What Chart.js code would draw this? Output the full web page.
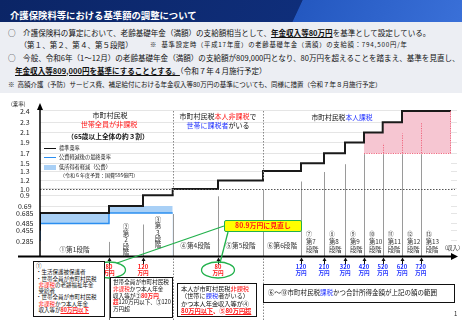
<!DOCTYPE html>
<html><head><meta charset="utf-8">
<script src="https://cdn.jsdelivr.net/npm/chart.js@4.4.1/dist/chart.umd.min.js"></script>
<style>
html,body{margin:0;padding:0;width:462px;height:320px;overflow:hidden;background:#fff;font-family:"Noto Sans CJK JP","Noto Sans",sans-serif;color:#111;}
.a{position:absolute;white-space:nowrap;}
#bar{position:absolute;left:0;top:0;width:462px;height:22px;background:linear-gradient(115deg,#0b2566 0%,#0f2e7a 64%,#2458c0 64.2%,#3a70d8 100%);}
#panel{position:absolute;left:0;top:22px;width:462px;height:71px;background:#eceef3;}
#wrap{position:absolute;left:0;top:92px;width:462px;height:228px;}
.r{color:#ff1a1a}.b{color:#2233ff}
.bx{position:absolute;border:1px solid #111;background:#fff;box-sizing:border-box;overflow:hidden;}
u{text-underline-offset:1px}
</style></head>
<body>
<div id="bar"></div>
<div class="a" style="left:10px;top:8.5px;font-size:9.35px;line-height:12px;font-weight:bold;color:#fff">介護保険料等における基準額の調整について</div>
<div id="panel"></div>
<div class="a" style="left:8px;top:28px;font-size:7.55px;line-height:10px">○　介護保険料の算定において、老齢基礎年金（満額）の支給額相当として、<b><u>年金収入等80万円</u></b>を基準として設定している。</div>
<div class="a" style="left:19.5px;top:40px;font-size:7.55px;line-height:10px">（第１、第２、第４、第５段階）</div>
<div class="a" style="left:150px;top:41px;font-size:6.3px;line-height:8px;letter-spacing:0.8px">※&nbsp;&nbsp;基準設定時（平成17年度）の老齢基礎年金（満額）の支給額：794,500円/年</div>
<div class="a" style="left:8px;top:53px;font-size:7.55px;line-height:10px">○　今般、令和6年（1～12月）の老齢基礎年金（満額）の支給額が809,000円となり、80万円を超えることを踏まえ、基準を見直し、</div>
<div class="a" style="left:15px;top:65.5px;font-size:7.55px;line-height:10px"><b><u>年金収入等809,000円を基準にすることとする。</u></b>（令和７年４月施行予定）</div>
<div class="a" style="left:8px;top:80px;font-size:6.5px;line-height:9px">※&nbsp;&nbsp;高額介護（予防）サービス費、補足給付における年金収入等80万円の基準についても、同様に措置（令和７年８月施行予定）</div>

<div id="wrap"><canvas id="c" width="462" height="228"></canvas></div>
<div id="ov"></div>

<script>
// ---------------- DATA ----------------
const stageCircled = ['①','②','③','④','⑤','⑥','⑦','⑧','⑨','⑩','⑪','⑫','⑬'];
const stageNames = ['第1段階','第2段階','第3段階','第4段階','第5段階','第6段階','第7段階','第8段階','第9段階','第10段階','第11段階','第12段階','第13段階'];
const standardRates = [0.455,0.685,0.69,0.9,1.0,1.2,1.3,1.5,1.7,1.9,2.1,2.3,2.4];
const reducedRates = [0.285,0.485,0.685];
const tickValues = [0.285,0.455,0.485,0.685,0.69,0.9,1.0,1.2,1.3,1.5,1.7,1.9,2.1,2.3,2.4];
const tickLabels = ['0.285','0.455','0.485','0.685','0.69','0.9','1.0','1.2','1.3','1.5','1.7','1.9','2.1','2.3','2.4'];
const thresholdAfterStage = [1,2,4,6,7,8,9,10,11,12];
const thresholdLabels = ['80','120','80','120','210','320','420','520','620','720'];
const pinkBaseRate = 1.7;
const referenceRate = 1.0;

// ---------------- LAYOUT ----------------
const STAGE_W = [69,34,29.7,45.3,45,38,23,21,19,18.7,19.3,18.7,30.3];
const X_MAX = 417;
const WARP_V = [0].concat(tickValues, [2.5]);
const WARP_H = [0,15.6,26,33,43.5,50.5,61.2,67.6,76,85.5,93.3,103.3,114,124,134.3,145.5,152.5];
const TOP = 92;
const bx = [0]; STAGE_W.forEach((w,i)=>bx.push(bx[i]+w));

function warpDec(v){
  if (v<=WARP_V[0]) return 0;
  for (let i=1;i<WARP_V.length;i++){
    if (v<=WARP_V[i]){ const t=(v-WARP_V[i-1])/(WARP_V[i]-WARP_V[i-1]); return (WARP_H[i-1]+t*(WARP_H[i]-WARP_H[i-1]))/WARP_H[WARP_H.length-1]; }
  }
  return 1;
}
function unwarp(d){
  const h=d*WARP_H[WARP_H.length-1];
  for (let i=1;i<WARP_H.length;i++){ if (h<=WARP_H[i]){ const t=(h-WARP_H[i-1])/(WARP_H[i]-WARP_H[i-1]); return WARP_V[i-1]+t*(WARP_V[i]-WARP_V[i-1]); } }
  return WARP_V[WARP_V.length-1];
}
class WarpScale extends Chart.LinearScale {
  getPixelForValue(v){ return this.getPixelForDecimal(warpDec(v)); }
  getValueForPixel(p){ return unwarp(this.getDecimalForPixel(p)); }
}
WarpScale.id='warp';
WarpScale.defaults=Chart.LinearScale.defaults;
Chart.register(WarpScale);

const stdPts = standardRates.map((r,i)=>({x:bx[i],y:r})).concat([{x:bx[13],y:standardRates[12]}]);
const redPts = reducedRates.map((r,i)=>({x:bx[i],y:r})).concat([{x:bx[3],y:reducedRates[2]}]);
const blueFillPts = standardRates.slice(0,3).map((r,i)=>({x:bx[i],y:r})).concat([{x:bx[3],y:standardRates[2]}]);
const pinkPts = standardRates.slice(9).map((r,i)=>({x:bx[i+9],y:r})).concat([{x:bx[13],y:standardRates[12]}]);

const FONT = '"Noto Sans CJK JP","Noto Sans",sans-serif';
const base = {stepped:'after',pointRadius:0,borderColor:'transparent',borderWidth:0};

const deco = {
  id:'deco',
  afterDatasetsDraw(chart){
    const c=chart.ctx, xs=chart.scales.x, ys=chart.scales.y;
    const px=v=>xs.getPixelForValue(v), py=v=>ys.getPixelForValue(v);
    const y0=py(0);
    c.save();
    for (let i=1;i<13;i++){
      const x=Math.round(px(bx[i]))+0.5;
      const left = i<=3 ? reducedRates[i-1] : standardRates[i-1];
      const lim = i>=10 ? pinkBaseRate : left;
      c.strokeStyle='#9a9a9a'; c.lineWidth=1; c.setLineDash([]);
      c.beginPath(); c.moveTo(x,y0); c.lineTo(x,py(lim)+1); c.stroke();
      if (i>=10){
        c.strokeStyle='#f0677f'; c.setLineDash([1.2,1.2]);
        c.beginPath(); c.moveTo(x,py(pinkBaseRate)); c.lineTo(x,py(left)+1); c.stroke();
      }
    }
    c.strokeStyle='#f0677f'; c.lineWidth=1; c.setLineDash([1.2,1.2]);
    c.beginPath(); c.moveTo(px(bx[9]),Math.round(py(pinkBaseRate))+0.5); c.lineTo(px(bx[13]),Math.round(py(pinkBaseRate))+0.5); c.stroke();
    c.beginPath(); c.moveTo(px(bx[13])-0.5,py(pinkBaseRate)); c.lineTo(px(bx[13])-0.5,py(standardRates[12])); c.stroke();
    c.strokeStyle='#555'; c.setLineDash([1.5,1.5]);
    const yr=Math.round(py(referenceRate))+0.5;
    c.beginPath(); c.moveTo(px(0),yr); c.lineTo(px(X_MAX)-2,yr); c.stroke();
    c.strokeStyle='#888'; c.setLineDash([1.5,1.5]);
    [3,5].forEach(i=>{
      const x=Math.round(px(bx[i]))+0.5;
      c.beginPath(); c.moveTo(x,py(2.4)); c.lineTo(x,py(standardRates[i])-1); c.stroke();
      c.beginPath(); c.moveTo(x,y0+2); c.lineTo(x,chart.height); c.stroke();
    });
    c.setLineDash([]);
    c.strokeStyle='#444'; c.lineWidth=0.8;
    const xs1=Math.round(px(bx[1]))+0.5;
    c.beginPath(); c.moveTo(xs1,y0+2); c.lineTo(xs1,chart.height); c.stroke();
    c.fillStyle='#111'; c.strokeStyle='#111'; c.lineWidth=1;
    thresholdAfterStage.forEach(k=>{
      const x=Math.round(px(bx[k]))+0.5;
      c.beginPath(); c.moveTo(x,y0+8); c.lineTo(x,y0+3); c.stroke();
      c.beginPath(); c.moveTo(x,y0+1); c.lineTo(x-2,y0+4.5); c.lineTo(x+2,y0+4.5); c.closePath(); c.fill();
    });
    c.strokeStyle='#000'; c.fillStyle='#000';
    c.lineWidth=2; c.beginPath(); c.moveTo(18,y0); c.lineTo(px(X_MAX)-3,y0); c.stroke();
    c.beginPath(); c.moveTo(px(X_MAX)+1,y0); c.lineTo(px(X_MAX)-6,y0-3.5); c.lineTo(px(X_MAX)-6,y0+3.5); c.closePath(); c.fill();
    const xa=px(0);
    c.lineWidth=1.5; c.beginPath(); c.moveTo(xa,y0); c.lineTo(xa,chart.chartArea.top+4); c.stroke();
    c.beginPath(); c.moveTo(xa,chart.chartArea.top-1); c.lineTo(xa-3,chart.chartArea.top+6); c.lineTo(xa+3,chart.chartArea.top+6); c.closePath(); c.fill();
    c.strokeStyle='#22b14c'; c.lineWidth=1.3;
    const e1=px(bx[1]), e2=px(bx[4]);
    c.beginPath(); c.moveTo(224,226-TOP); c.lineTo(e1+8,263-TOP); c.stroke();
    c.beginPath(); c.moveTo(228,232-TOP); c.lineTo(e2+2,263-TOP); c.stroke();
    [e1,e2].forEach(x=>{ c.beginPath(); c.ellipse(x,270-TOP,16.5,8,0,0,Math.PI*2); c.stroke(); });
    c.restore();
  }
};

const chart = new Chart(document.getElementById('c'),{
  type:'line',
  data:{datasets:[
    Object.assign({},base,{label:'標準乗率',data:stdPts,borderColor:'#1a1a1a',borderWidth:2,fill:false}),
    Object.assign({},base,{label:'公費軽減後の最終乗率',data:redPts,borderColor:'#2b8ef0',borderWidth:1.5,fill:false}),
    Object.assign({},base,{label:'pink',data:pinkPts,fill:{value:pinkBaseRate},backgroundColor:'#f6c6d2'}),
    Object.assign({},base,{label:'white2',data:redPts,fill:'origin',backgroundColor:'#ffffff'}),
    Object.assign({},base,{label:'低所得者軽減（公費）',data:blueFillPts,fill:'origin',backgroundColor:'#a9d0f6'}),
    Object.assign({},base,{label:'white',data:stdPts,fill:'origin',backgroundColor:'#ffffff'})
  ]},
  options:{
    responsive:false, animation:false, devicePixelRatio:1,
    layout:{padding:{left:0,right:5,top:12,bottom:63.5}},
    plugins:{legend:{display:false},tooltip:{enabled:false}},
    scales:{
      x:{type:'linear',min:0,max:X_MAX,display:false},
      y:{type:'warp',min:0,max:2.5,
         afterBuildTicks:s=>{ s.ticks=tickValues.map(v=>({value:v})); },
         afterFit:s=>{ s.width=40; },
         ticks:{autoSkip:false,callback:(v,i)=>tickLabels[i],font:{size:7,family:FONT},color:'#222',padding:6.5,crossAlign:'center'},
         grid:{drawTicks:false,color:'#dedede',lineWidth:0.8},
         border:{display:false}}
    }
  },
  plugins:[deco]
});

// ---------------- TEXT OVERLAYS ----------------
const ov=document.getElementById('ov');
function T(html,left,cy,size,extra){
  const d=document.createElement('div'); d.className='a';
  const lh=size*1.3;
  d.style.cssText=`left:${left}px;top:${cy-lh/2}px;font-size:${size}px;line-height:${lh}px;`+(extra||'');
  d.innerHTML=html; ov.appendChild(d); return d;
}
const xs=chart.scales.x;
const PX=v=>xs.getPixelForValue(v);

T('(乗率)',11,105,5.5,'color:#222');
const L=(top,h,col)=>{const d=document.createElement('div');d.style.cssText=`position:absolute;left:43.5px;top:${top}px;width:12px;height:${h}px;background:${col}`;ov.appendChild(d);};
L(147.5,1.8,'#111'); L(156.8,1.5,'#2b8ef0'); L(164.8,5.5,'#a9d0f6');
T('標準乗率',59,148.5,5.2,'color:#222');
T('公費軽減後の最終乗率',59,157.7,5.2,'color:#222');
T('低所得者軽減（公費）',59,167.3,5.2,'color:#222');
T('（令和６年度予算：国費595億円）',60,175,5,'color:#222');

T('市町村民税',110,115.7,7,'transform:translateX(-50%)');
T('<span class="r">世帯全員が非課税</span>',109,124.5,7.1,'transform:translateX(-50%)');
T('<b>（65歳以上全体の約３割）</b>',108,136.7,6.7,'transform:translateX(-50%)');
T('市町村民税<span class="r">本人非課税</span>で',218,116.5,7,'transform:translateX(-50%)');
T('<span class="b">世帯に課税者</span>がいる',218,125.5,7,'transform:translateX(-50%)');
T('市町村民税<span class="b">本人課税</span>',342,117,6.8,'transform:translateX(-50%)');

const stageStyle=['h','v','v','h','h','h','s','s','s','s','s','s','s'];
const vertTop={1:227.5,2:220};
stageNames.forEach((n,i)=>{
  const l=PX(bx[i]), r=PX(bx[i+1]), m=(l+r)/2;
  if (stageStyle[i]==='h'){
    T(stageCircled[i]+n,m,i===0?249:245.5,6.6,'transform:translateX(-50%);color:#333');
  } else if (stageStyle[i]==='v'){
    Array.from(stageCircled[i]+n).forEach((ch,k)=>{
      T(ch,m,vertTop[i]+k*6.4,6.4,'transform:translateX(-50%);color:#333');
    });
  } else {
    const nm=n.replace('段階','');
    T(stageCircled[i],l+5,234.3,6,'color:#333');
    T(nm,l+5,242,6.3,'color:#333');
    T('段階',l+5,249.7,6.3,'color:#333');
  }
});
T('（収入）',441.5,248.3,5.5,'color:#333');

thresholdAfterStage.forEach((k,j)=>{
  const x=PX(bx[k]);
  const cls = k<5 ? 'r' : 'b';
  T(`<b class="${cls}">${thresholdLabels[j]}</b>`,x,267,5.8,'transform:translateX(-50%)');
  T(`<b class="${cls}">万円</b>`,x,273.5,5.6,'transform:translateX(-50%)');
});

const yb=document.createElement('div');
yb.style.cssText='position:absolute;left:224px;top:219.5px;width:78px;height:12px;background:#ffff00;border:1.5px solid #22b14c;border-radius:2px;box-sizing:border-box;font-size:6.9px;line-height:9px;text-align:center;font-weight:bold;color:#ff1a1a;white-space:nowrap';
yb.textContent='80.9万円に見直し'; ov.appendChild(yb);

function B(l,t,w,h,html,fs,lh,extra){
  const d=document.createElement('div'); d.className='bx';
  d.style.cssText=`left:${l}px;top:${t}px;width:${w}px;height:${h}px;font-size:${fs}px;line-height:${lh}px;padding:1px 2px;white-space:nowrap;`+(extra||'');
  d.innerHTML=html; ov.appendChild(d);
}
B(33,261,72,55.5,'①<br>・生活保護被保護者<br>・世帯全員が市町村民税<br>&nbsp;&nbsp;<span class="r">非課税</span>の老齢福祉年金<br>&nbsp;&nbsp;受給者<br>・世帯全員が市町村民税<br>&nbsp;&nbsp;<span class="r">非課税</span>かつ本人年金<br>&nbsp;&nbsp;収入等が<b class="r"><u>80万円以下</u></b>',5.5,6.3,'border-width:1.3px');
B(110,277,63,41,'世帯全員が市町村民税<br><span class="r">非課税</span>かつ本人年金<br>収入等が②<b class="r">80万円</b><br><b class="r">超</b>120万円以下、③120<br>万円超',5.6,6.8,'');
B(177,283,80,34,'本人が市町村民税<span class="r">非課税</span><br>（世帯に<span class="b">課税</span>者がいる）<br>かつ本人年金収入等が④<br><b class="r"><u>80万円以下</u>、⑤<u>80万円超</u></b>',6.2,7.4,'border-width:1.3px;padding:1px 3px');
B(263,284,192,19,'⑥～⑬市町村民税<span class="b">課税</span>かつ合計所得金額が上記の額の範囲',6.5,15,'padding:0 4px');
T('1',454,313.5,6,'color:#222');
</script>
</body></html>
